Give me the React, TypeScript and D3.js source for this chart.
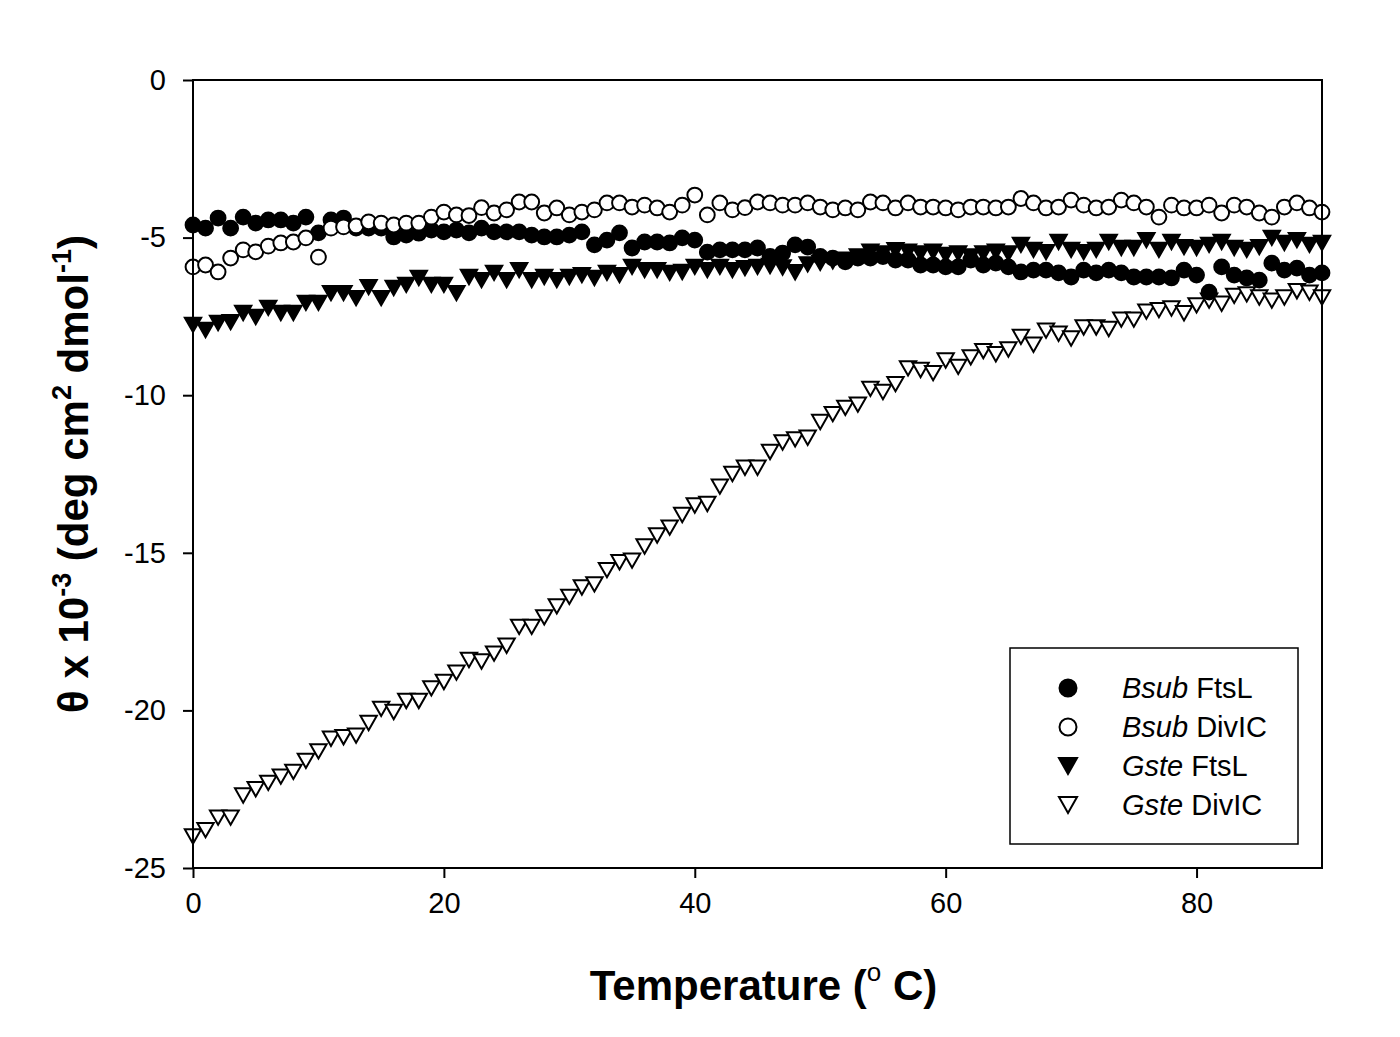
import React, { useEffect, useRef } from 'react';
import * as d3 from 'd3';

// temperature in degrees C, one reading per degree
const temperature = d3.range(0, 91);

const bsubFtsL = [
  -4.6, -4.7, -4.38, -4.7, -4.35, -4.54, -4.44, -4.44, -4.54, -4.35,
  -4.85, -4.44, -4.38, -4.7, -4.7, -4.7, -4.98, -4.92, -4.86, -4.76,
  -4.82, -4.76, -4.85, -4.7, -4.82, -4.82, -4.82, -4.92, -4.98, -4.98,
  -4.92, -4.82, -5.23, -5.08, -4.85, -5.33, -5.14, -5.14, -5.17, -5.01,
  -5.08, -5.46, -5.39, -5.39, -5.39, -5.33, -5.6, -5.49, -5.23, -5.3,
  -5.6, -5.65, -5.77, -5.65, -5.65, -5.6, -5.71, -5.71, -5.87, -5.87,
  -5.93, -5.93, -5.71, -5.87, -5.81, -5.93, -6.09, -6.03, -6.03, -6.12,
  -6.25, -6.03, -6.12, -6.03, -6.12, -6.25, -6.25, -6.25, -6.28, -6.03,
  -6.19, -6.73, -5.93, -6.19, -6.28, -6.35, -5.81, -6.03, -5.97, -6.19, -6.12,
];

const bsubDivIC = [
  -5.93, -5.87, -6.09, -5.65, -5.39, -5.45, -5.27, -5.17, -5.14, -5.01,
  -5.62, -4.7, -4.66, -4.63, -4.5, -4.54, -4.6, -4.54, -4.54, -4.35,
  -4.19, -4.28, -4.3, -4.05, -4.22, -4.12, -3.87, -3.87, -4.22, -4.06,
  -4.28, -4.19, -4.12, -3.9, -3.9, -4.03, -3.97, -4.06, -4.19, -3.97,
  -3.65, -4.28, -3.9, -4.12, -4.05, -3.87, -3.9, -3.97, -3.97, -3.9,
  -4.03, -4.12, -4.06, -4.12, -3.87, -3.9, -4.06, -3.9, -4.03, -4.03,
  -4.06, -4.12, -4.03, -4.03, -4.06, -4.03, -3.76, -3.9, -4.06, -4.03,
  -3.81, -3.97, -4.06, -4.03, -3.81, -3.9, -4.03, -4.35, -3.97, -4.06,
  -4.06, -3.97, -4.22, -3.97, -4.03, -4.22, -4.35, -4.03, -3.9, -4.06, -4.19,
];

const gsteFtsL = [
  -7.77, -7.93, -7.71, -7.68, -7.39, -7.52, -7.23, -7.39, -7.39, -7.07,
  -7.07, -6.76, -6.76, -6.92, -6.57, -6.92, -6.6, -6.5, -6.28, -6.5,
  -6.5, -6.76, -6.25, -6.35, -6.12, -6.35, -6.03, -6.35, -6.25, -6.35,
  -6.25, -6.19, -6.28, -6.12, -6.19, -5.93, -6.03, -6.03, -6.12, -6.09,
  -5.93, -6.03, -5.93, -6.03, -5.97, -5.93, -5.9, -5.95, -6.1, -5.85,
  -5.8, -5.75, -5.7, -5.6, -5.45, -5.5, -5.4, -5.45, -5.5, -5.45,
  -5.55, -5.5, -5.6, -5.5, -5.45, -5.5, -5.23, -5.39, -5.46, -5.14,
  -5.39, -5.46, -5.39, -5.14, -5.33, -5.33, -5.08, -5.39, -5.14, -5.3,
  -5.33, -5.23, -5.14, -5.33, -5.39, -5.3, -5.01, -5.17, -5.08, -5.23, -5.17,
];

const gsteDivIC = [
  -24.0, -23.8, -23.4, -23.4, -22.7, -22.5, -22.3, -22.1, -21.95, -21.6,
  -21.3, -20.9, -20.85, -20.8, -20.4, -19.95, -20.05, -19.7, -19.7, -19.3,
  -19.1, -18.8, -18.4, -18.45, -18.2, -17.95, -17.35, -17.35, -17.05, -16.7,
  -16.4, -16.1, -16.0, -15.55, -15.3, -15.25, -14.8, -14.45, -14.2, -13.8,
  -13.5, -13.45, -12.9, -12.5, -12.3, -12.3, -11.8, -11.5, -11.4, -11.35,
  -10.85, -10.6, -10.4, -10.3, -9.8, -9.9, -9.65, -9.15, -9.2, -9.3,
  -8.9, -9.1, -8.8, -8.6, -8.7, -8.55, -8.15, -8.4, -7.95, -8.05,
  -8.2, -7.85, -7.85, -7.9, -7.6, -7.6, -7.35, -7.3, -7.25, -7.4,
  -7.15, -7.0, -7.1, -6.85, -6.8, -6.9, -7.0, -6.9, -6.7, -6.75, -6.9,
];

const xTicks = [0, 20, 40, 60, 80];
const yTicks = [0, -5, -10, -15, -20, -25];

type Shape = 'circle' | 'triangle';
interface Series {
  species: string;
  protein: string;
  values: number[];
  shape: Shape;
  filled: boolean;
}

const legendSeries: Series[] = [
  { species: 'Bsub', protein: 'FtsL', values: bsubFtsL, shape: 'circle', filled: true },
  { species: 'Bsub', protein: 'DivIC', values: bsubDivIC, shape: 'circle', filled: false },
  { species: 'Gste', protein: 'FtsL', values: gsteFtsL, shape: 'triangle', filled: true },
  { species: 'Gste', protein: 'DivIC', values: gsteDivIC, shape: 'triangle', filled: false },
];
// drawing order: open triangles at the bottom, open circles on top
const drawOrder = [3, 2, 0, 1];

const FONT = '"Liberation Sans", Arial, Helvetica, sans-serif';

const App: React.FC = () => {
  const ref = useRef<SVGSVGElement | null>(null);
  const width = 1400;
  const height = 1037;

  useEffect(() => {
    if (!ref.current) return;
    const svg = d3.select(ref.current);
    svg.selectAll('*').remove();

    const plot = { left: 193, top: 80, right: 1322, bottom: 868 };

    const x = d3.scaleLinear().domain([0, 90]).range([plot.left, plot.right]);
    const y = d3.scaleLinear().domain([0, -25]).range([plot.top, plot.bottom]);

    svg.append('rect').attr('width', width).attr('height', height).attr('fill', '#fff');

    const drawMarker = (
      g: d3.Selection<SVGGElement, unknown, null, undefined>,
      s: Series,
      cx: number,
      cy: number,
      size: number,
    ) => {
      const fill = s.filled ? '#000' : '#fff';
      if (s.shape === 'circle') {
        g.append('circle')
          .attr('cx', cx)
          .attr('cy', cy)
          .attr('r', size)
          .attr('fill', fill)
          .attr('stroke', '#000')
          .attr('stroke-width', 2);
      } else {
        const hw = size * 1.05;
        const hh = size * 0.92;
        g.append('path')
          .attr('d', `M${cx - hw},${cy - hh}L${cx + hw},${cy - hh}L${cx},${cy + hh}Z`)
          .attr('fill', fill)
          .attr('stroke', '#000')
          .attr('stroke-width', 2)
          .attr('stroke-linejoin', 'miter');
      }
    };

    // data
    const marks = svg.append('g');
    drawOrder.forEach(i => {
      const s = legendSeries[i];
      const size = s.shape === 'circle' ? 7.4 : 7.8;
      temperature.forEach((t, j) => drawMarker(marks, s, x(t), y(s.values[j]), size));
    });

    // frame
    svg.append('rect')
      .attr('x', plot.left)
      .attr('y', plot.top)
      .attr('width', plot.right - plot.left)
      .attr('height', plot.bottom - plot.top)
      .attr('fill', 'none')
      .attr('stroke', '#000')
      .attr('stroke-width', 2);

    const tickFmt = (d: d3.NumberValue) => String(d);

    // axes
    const xAxis = svg.append('g').attr('transform', `translate(0,${plot.bottom})`);
    xAxis.call(
      d3.axisBottom(x).tickValues(xTicks).tickFormat(tickFmt).tickSize(10).tickSizeOuter(0).tickPadding(14),
    );
    xAxis.select('.domain').remove();
    xAxis.selectAll('line').attr('stroke', '#000').attr('stroke-width', 2);
    xAxis.selectAll('text')
      .attr('font-family', FONT)
      .attr('font-size', 29)
      .attr('fill', '#000');

    const yAxis = svg.append('g').attr('transform', `translate(${plot.left},0)`);
    yAxis.call(
      d3.axisLeft(y).tickValues(yTicks).tickFormat(tickFmt).tickSize(10).tickSizeOuter(0).tickPadding(17),
    );
    yAxis.select('.domain').remove();
    yAxis.selectAll('line').attr('stroke', '#000').attr('stroke-width', 2);
    yAxis.selectAll('text')
      .attr('font-family', FONT)
      .attr('font-size', 29)
      .attr('fill', '#000');

    // x title
    const xt = svg.append('text')
      .attr('x', (plot.left + plot.right) / 2 + 6)
      .attr('y', 1000)
      .attr('text-anchor', 'middle')
      .attr('font-family', FONT)
      .attr('font-weight', 'bold')
      .attr('font-size', 42)
      .attr('fill', '#000');
    xt.append('tspan').text('Temperature (');
    xt.append('tspan').attr('font-size', 26).attr('font-weight', 'normal').attr('dy', -19).text('o');
    xt.append('tspan').attr('dy', 19).text('\u00a0C)');

    // y title
    const yt = svg.append('text')
      .attr('transform', `translate(88,${(plot.top + plot.bottom) / 2}) rotate(-90)`)
      .attr('text-anchor', 'middle')
      .attr('font-family', FONT)
      .attr('font-weight', 'bold')
      .attr('font-size', 42)
      .attr('fill', '#000');
    yt.append('tspan').text('\u03b8 x 10');
    yt.append('tspan').attr('font-size', 27).attr('dy', -17).text('-3');
    yt.append('tspan').attr('dy', 17).text(' (deg cm');
    yt.append('tspan').attr('font-size', 27).attr('dy', -17).text('2');
    yt.append('tspan').attr('dy', 17).text(' dmol');
    yt.append('tspan').attr('font-size', 27).attr('dy', -17).text('-1');
    yt.append('tspan').attr('dy', 17).text(')');

    // legend
    const legend = svg.append('g');
    legend.append('rect')
      .attr('x', 1010)
      .attr('y', 648)
      .attr('width', 288)
      .attr('height', 196)
      .attr('fill', '#fff')
      .attr('stroke', '#000')
      .attr('stroke-width', 1.5);
    const rowY = d3.scalePoint<number>().domain(d3.range(legendSeries.length)).range([688, 805]);
    legendSeries.forEach((s, i) => {
      const cy = rowY(i) as number;
      drawMarker(legend, s, 1068, cy, s.shape === 'circle' ? 8.5 : 8.6);
      const t = legend.append('text')
        .attr('x', 1122)
        .attr('y', cy + 10)
        .attr('font-family', FONT)
        .attr('font-size', 29)
        .attr('fill', '#000');
      t.append('tspan').attr('font-style', 'italic').text(s.species);
      t.append('tspan').text(' ' + s.protein);
    });
  }, []);

  return (
    <svg
      ref={ref}
      width={width}
      height={height}
      style={{ position: 'absolute', left: 0, top: 0, display: 'block' }}
    />
  );
};

export default App;
